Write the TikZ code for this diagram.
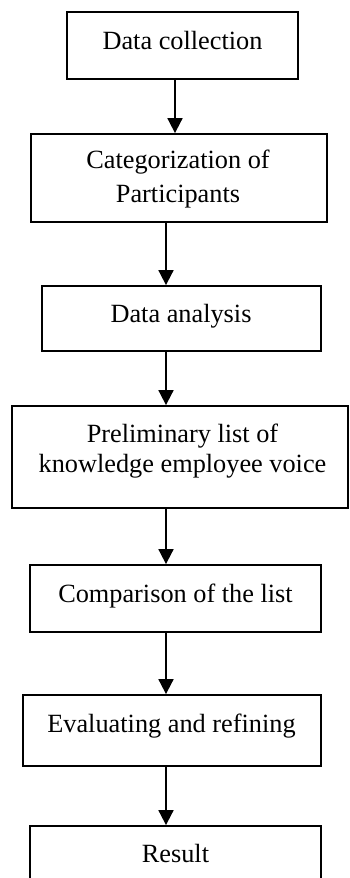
\documentclass[tikz,border=0pt]{standalone}
\usepackage{fontspec}
\setmainfont{Liberation Serif}
\usetikzlibrary{arrows.meta}
\begin{document}
\begin{tikzpicture}[x=1pt,y=-1pt,
  box/.style={draw=black, line width=1.8pt, rectangle, inner sep=0pt, fill=white},
  txt/.style={inner sep=0pt, anchor=base, align=center, font=\fontsize{26.3}{31.5}\selectfont},
  arr/.style={line width=1.8pt, -{Triangle[length=15pt,width=15pt]}}]
\useasboundingbox (0,0) rectangle (349,878);
\clip (0,0) rectangle (349,878);
% boxes
\node[box, minimum width=231pt, minimum height=67pt] (b1) at (182.5,45.5) {};
\node[box, minimum width=296pt, minimum height=88pt] (b2) at (179,178) {};
\node[box, minimum width=279pt, minimum height=65pt] (b3) at (181.5,318.5) {};
\node[box, minimum width=336pt, minimum height=102pt] (b4) at (180,457) {};
\node[box, minimum width=291pt, minimum height=67pt] (b5) at (175.5,598.5) {};
\node[box, minimum width=298pt, minimum height=71pt] (b6) at (172,730.5) {};
\node[box, minimum width=291pt, minimum height=68pt] (b7) at (175.5,860) {};
% texts
\node[txt] (t1) at (182.5,49) {Data collection};
\node[txt] (t2) at (178,202.5) {Categorization of\\[2.5pt]Participants};
\node[txt] (t3) at (181,322) {Data analysis};
\node[txt] (t4) at (182.5,472.5) {Preliminary list of\\[-1pt]knowledge employee voice};
\node[txt] (t5) at (175.5,602) {Comparison of the list};
\node[txt] (t6) at (171.5,732) {Evaluating and refining};
\node[txt] (t7) at (175.5,862) {Result};
% arrows
\coordinate (ax1) at (175,0);
\coordinate (ax) at (166,0);
\draw[arr] (b1.south -| ax1) -- (b2.north -| ax1);
\draw[arr] (b2.south -| ax) -- (b3.north -| ax);
\draw[arr] (b3.south -| ax) -- (b4.north -| ax);
\draw[arr] (b4.south -| ax) -- (b5.north -| ax);
\draw[arr] (b5.south -| ax) -- (b6.north -| ax);
\draw[arr] (b6.south -| ax) -- (b7.north -| ax);
\end{tikzpicture}
\end{document}
